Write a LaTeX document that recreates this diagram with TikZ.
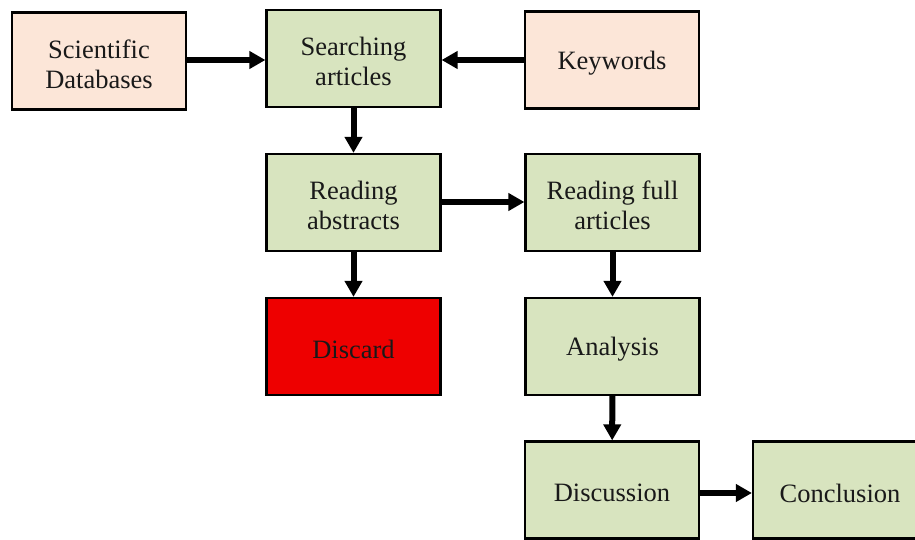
\documentclass[tikz,border=0pt]{standalone}
\usepackage{fontspec}
\setmainfont{Liberation Serif}
\usetikzlibrary{arrows.meta}
\definecolor{peach}{HTML}{FCE6D8}
\definecolor{sage}{HTML}{D8E4BF}
\definecolor{alarm}{HTML}{EE0000}
\begin{document}
\begin{tikzpicture}[x=1pt,y=-1pt,
  box/.style={draw=black, line width=2.2pt, minimum width=174pt, minimum height=97pt,
    inner sep=0pt},
  txt/.style={align=center, inner sep=0pt, yshift=-3pt,
    font=\fontsize{26.5}{30}\selectfont, text=black!90},
  src/.style={box, fill=peach},
  proc/.style={box, fill=sage},
  bad/.style={box, fill=alarm},
  flow/.style={line width=6pt, -{Triangle[length=16pt,width=17pt]}}]
\useasboundingbox (0,0) rectangle (915,540);
\node[src]  (sd) at (99,61)    {};
\node[proc] (sa) at (353.5,58.5) {};
\node[src]  (kw) at (612,60)   {};
\node[proc] (ra) at (353.5,202.5) {};
\node[proc] (rf) at (612.5,202.5) {};
\node[bad]  (dc) at (353.5,346.5) {};
\node[proc] (an) at (612.5,346.5) {};
\node[proc] (di) at (612,490)  {};
\node[proc] (co) at (840,490) {};
\node[txt] (tsd) at (sd) {Scientific\\Databases};
\node[txt] (tsa) at (sa) {Searching\\articles};
\node[txt] (tkw) at (kw) {Keywords};
\node[txt] (tra) at (ra) {Reading\\abstracts};
\node[txt] (trf) at (rf) {Reading full\\articles};
\node[txt] (tdc) at (dc) {Discard};
\node[txt] (tan) at (an) {Analysis};
\node[txt] (tdi) at (di) {Discussion};
\node[txt] (tco) at (co) {Conclusion};
\draw[flow] (sd.east |- 0,60) -- (sa.west |- 0,60);
\draw[flow] (kw.west |- 0,60) -- (sa.east |- 0,60);
\draw[flow] (sa) -- (ra);
\draw[flow] (ra.east |- 0,202) -- (rf.west |- 0,202);
\draw[flow] (ra) -- (dc);
\draw[flow] (rf) -- (an);
\draw[flow] (an) -- (di);
\draw[flow] (di.east |- 0,493) -- (co.west |- 0,493);
\end{tikzpicture}
\end{document}
